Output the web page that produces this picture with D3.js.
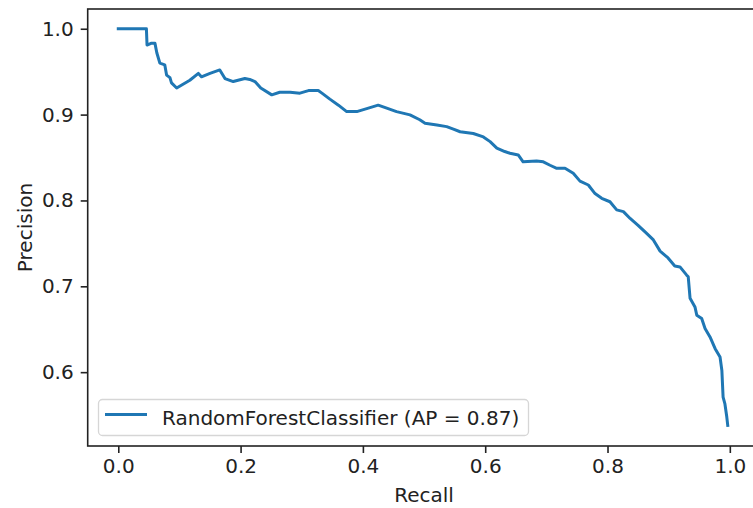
<!DOCTYPE html>
<html>
<head>
<meta charset="utf-8">
<script src="https://cdn.jsdelivr.net/npm/d3@7"></script>
<style>
  html, body { margin: 0; padding: 0; background: #fff; }
  svg { display: block; font-family: "DejaVu Sans", sans-serif; }
</style>
</head>
<body>
<svg id="chart" width="753" height="508"></svg>
<script>
const recall = [0.000, 0.046, 0.047, 0.0535, 0.060, 0.063, 0.068, 0.076, 0.079, 0.0845, 0.087, 0.0955,
  0.117, 0.131, 0.136, 0.150, 0.166, 0.1745, 0.188, 0.207, 0.215, 0.2235, 0.233, 0.251, 0.264, 0.281,
  0.297, 0.311, 0.327, 0.333, 0.346, 0.360, 0.3735, 0.390, 0.409, 0.425, 0.439, 0.455, 0.477, 0.493,
  0.5016, 0.521, 0.537, 0.548, 0.559, 0.5805, 0.597, 0.608, 0.619, 0.632, 0.6405, 0.654, 0.662, 0.684,
  0.695, 0.706, 0.717, 0.7305, 0.744, 0.755, 0.7686, 0.7796, 0.7905, 0.804, 0.815, 0.826, 0.837, 0.850,
  0.864, 0.875, 0.886, 0.899, 0.910, 0.9185, 0.9295, 0.932, 0.935, 0.943, 0.946, 0.954, 0.9595, 0.9676,
  0.976, 0.984, 0.987, 0.989, 0.992, 0.995, 0.9966];
const precision = [1.000, 1.000, 0.981, 0.983, 0.983, 0.972, 0.960, 0.958, 0.946, 0.943, 0.937, 0.931,
  0.940, 0.948, 0.944, 0.948, 0.952, 0.942, 0.9385, 0.942, 0.941, 0.9385, 0.931, 0.923, 0.926, 0.926,
  0.925, 0.928, 0.928, 0.925, 0.918, 0.911, 0.9035, 0.9035, 0.9075, 0.911, 0.9075, 0.9035, 0.8997, 0.894,
  0.890, 0.888, 0.886, 0.883, 0.880, 0.878, 0.874, 0.8685, 0.861, 0.857, 0.855, 0.853, 0.845, 0.846,
  0.845, 0.841, 0.8375, 0.8375, 0.8316, 0.8225, 0.818, 0.808, 0.8025, 0.7985, 0.789, 0.787, 0.779, 0.771,
  0.7616, 0.754, 0.741, 0.733, 0.7236, 0.7226, 0.713, 0.711, 0.686, 0.676, 0.6663, 0.6624, 0.6508, 0.641,
  0.6274, 0.6176, 0.602, 0.571, 0.563, 0.548, 0.538];
const xTicks = [0.0, 0.2, 0.4, 0.6, 0.8, 1.0];
const yTicks = [0.6, 0.7, 0.8, 0.9, 1.0];
const seriesName = "RandomForestClassifier (AP = 0.87)";
const xLabel = "Recall";
const yLabel = "Precision";

const svg = d3.select("#chart");
const L = 87.7, R = 760.4, T = 9, B = 446;
const x = d3.scaleLinear().domain([-0.05, 1.05]).range([L, R]);
const y = d3.scaleLinear().domain([0.514, 1.023]).range([B, T]);
const textColor = "#222";
const fs = 20;

// axes
const xAxis = d3.axisBottom(x).tickValues(xTicks).tickFormat(d3.format(".1f"))
  .tickSize(7).tickPadding(6).tickSizeOuter(0);
const gx = svg.append("g").attr("transform", `translate(0,${B})`).call(xAxis);
const yAxis = d3.axisLeft(y).tickValues(yTicks).tickFormat(d3.format(".1f"))
  .tickSize(7).tickPadding(7).tickSizeOuter(0);
const gy = svg.append("g").attr("transform", `translate(${L},0)`).call(yAxis);
[gx, gy].forEach(g => {
  g.select(".domain").remove();
  g.selectAll(".tick line").attr("stroke", "#222").attr("stroke-width", 1.6);
  g.selectAll(".tick text").attr("fill", textColor).style("font-size", fs + "px")
    .style("font-family", "DejaVu Sans");
});

// line
const line = d3.line().x((d, i) => x(recall[i])).y((d, i) => y(precision[i]));
svg.append("path").datum(recall).attr("d", line)
  .attr("fill", "none").attr("stroke", "#1f77b4").attr("stroke-width", 3)
  .attr("stroke-linejoin", "round").attr("stroke-linecap", "square");

// spines
svg.append("rect").attr("x", L).attr("y", T).attr("width", R - L).attr("height", B - T)
  .attr("fill", "none").attr("stroke", "#222").attr("stroke-width", 1.6);

// labels
svg.append("text").attr("x", (L + R) / 2).attr("y", 502).attr("text-anchor", "middle")
  .attr("fill", textColor).style("font-size", fs + "px").text(xLabel);
svg.append("text").attr("transform", `translate(32,${(T + B) / 2}) rotate(-90)`)
  .attr("text-anchor", "middle").attr("fill", textColor).style("font-size", fs + "px").text(yLabel);

// legend
const lg = svg.append("g");
lg.append("rect").attr("x", 98.5).attr("y", 399.5).attr("width", 430).attr("height", 36)
  .attr("rx", 4).attr("fill", "#fff").attr("fill-opacity", 0.8)
  .attr("stroke", "#d6d6d6").attr("stroke-width", 1.3);
lg.append("line").attr("x1", 105).attr("x2", 147).attr("y1", 414.5).attr("y2", 414.5)
  .attr("stroke", "#1f77b4").attr("stroke-width", 3);
lg.append("text").attr("x", 162).attr("y", 424.5).attr("fill", textColor)
  .style("font-size", fs + "px").text(seriesName);
</script>
</body>
</html>
